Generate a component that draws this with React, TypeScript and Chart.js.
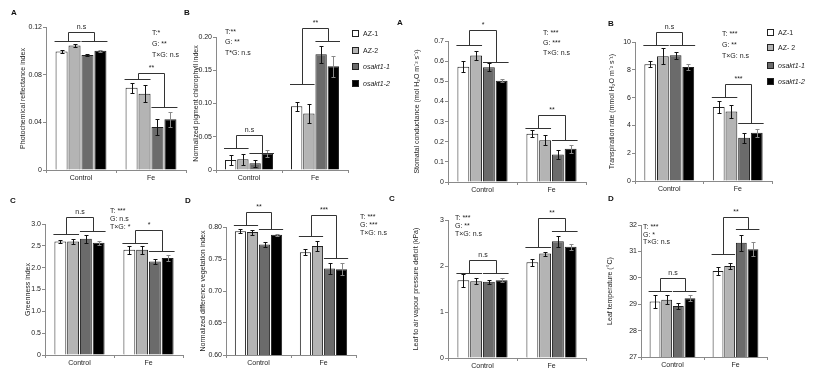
import React, { useEffect, useRef } from "react";
import { Chart, registerables } from "chart.js";
Chart.register(...registerables);

const CATEGORIES = ["Control", "Fe"];
const GENOTYPES = ["AZ-1", "AZ-2", "osakt1-1", "osakt1-2"];
const LEGEND_LEFT = ["AZ-1", "AZ-2", "osakt1-1", "osakt1-2"];
const LEGEND_RIGHT = ["AZ-1", "AZ- 2", "osakt1-1", "osakt1-2"];

// each row: one genotype, [Control, Fe]
const PRI_MEAN = [[0.0995, 0.069], [0.1045, 0.064], [0.0965, 0.036], [0.1, 0.0425]];
const PRI_SE = [[0.0012, 0.004], [0.0012, 0.007], [0.001, 0.007], [0.0006, 0.0065]];
const PRI_TICKS = [0, 0.04, 0.08, 0.12];
const PRI_SIG: any[] = [[0, 0.108, 0.108, 0.1158, "n.s"], [1, 0.0764, 0.053, 0.0814, "**"]];
const PRI_STATS = ["T:*", "G: **", "T×G: n.s"];

const NPCI_MEAN = [[0.015, 0.096], [0.016, 0.085], [0.01, 0.174], [0.025, 0.156]];
const NPCI_SE = [[0.008, 0.007], [0.008, 0.014], [0.005, 0.013], [0.005, 0.016]];
const NPCI_TICKS = [0, 0.05, 0.1, 0.15, 0.2];
const NPCI_SIG: any[] = [[0, 0.033, 0.026, 0.0525, "n.s"], [1, 0.13, 0.194, 0.214, "**"]];
const NPCI_STATS = ["T:**", "G: **", "T*G: n.s"];

const GS_MEAN = [[0.572, 0.24], [0.628, 0.207], [0.57, 0.136], [0.503, 0.165]];
const GS_SE = [[0.027, 0.017], [0.02, 0.025], [0.02, 0.022], [0.008, 0.02]];
const GS_TICKS = [0, 0.1, 0.2, 0.3, 0.4, 0.5, 0.6, 0.7];
const GS_SIG: any[] = [[0, 0.678, 0.596, 0.753, "*"], [1, 0.27, 0.207, 0.331, "**"]];
const GS_STATS = ["T: ***", "G: ***", "T×G: n.s"];

const TR_MEAN = [[8.4, 5.32], [8.98, 5.0], [9.05, 3.12], [8.2, 3.48]];
const TR_SE = [[0.2, 0.42], [0.58, 0.5], [0.24, 0.36], [0.24, 0.28]];
const TR_TICKS = [0, 2, 4, 6, 8, 10];
const TR_SIG: any[] = [[0, 9.8, 9.8, 10.72, "n.s"], [1, 6.04, 4.17, 6.95, "***"]];
const TR_STATS = ["T: ***", "G: **", "T×G: n.s"];

const GI_MEAN = [[2.6, 2.41], [2.6, 2.41], [2.66, 2.14], [2.57, 2.22]];
const GI_SE = [[0.04, 0.09], [0.06, 0.09], [0.09, 0.05], [0.05, 0.06]];
const GI_TICKS = [0, 0.5, 1, 1.5, 2, 2.5, 3];
const GI_SIG: any[] = [[0, 2.76, 2.85, 3.15, "n.s"], [1, 2.57, 2.38, 2.86, "*"]];
const GI_STATS = ["T: ***", "G: n.s", "T×G: *"];

const NDVI_MEAN = [[0.7935, 0.7605], [0.792, 0.7705], [0.7725, 0.735], [0.788, 0.734]];
const NDVI_SE = [[0.003, 0.005], [0.004, 0.0075], [0.0045, 0.009], [0.0013, 0.009]];
const NDVI_TICKS = [0.6, 0.65, 0.7, 0.75, 0.8];
const NDVI_SIG: any[] = [[0, 0.8026, 0.7964, 0.823, "**"], [1, 0.786, 0.751, 0.819, "***"]];
const NDVI_STATS = ["T: ***", "G: ***", "T×G: n.s"];

const VPD_MEAN = [[1.69, 2.08], [1.67, 2.27], [1.66, 2.54], [1.69, 2.42]];
const VPD_SE = [[0.14, 0.07], [0.07, 0.045], [0.045, 0.12], [0.04, 0.065]];
const VPD_TICKS = [0, 1, 2, 3];
const VPD_SIG: any[] = [[0, 1.84, 1.84, 2.13, "n.s"], [1, 2.42, 2.76, 3.05, "**"]];
const VPD_STATS = ["T: ***", "G: **", "T×G: n.s"];

const LT_MEAN = [[29.1, 30.26], [29.17, 30.45], [28.93, 31.33], [29.23, 31.08]];
const LT_SE = [[0.26, 0.16], [0.16, 0.1], [0.1, 0.3], [0.1, 0.26]];
const LT_TICKS = [27, 28, 29, 30, 31, 32];
const LT_SIG: any[] = [[0, 29.5, 29.5, 30.0, "n.s"], [1, 30.89, 31.84, 32.31, "**"]];
const LT_STATS = ["T: ***", "G: *", "T×G: n.s"];

const FONT = "'Liberation Sans', Arial, sans-serif";
const COLORS = ["#ffffff", "#b4b4b4", "#6b6b6b", "#000000"];
const AXIS = "#8a8a8a";
const TEXT = "#222";

const PANELS = [
  { key: "A", label: "A", lx: 11, ly: 8, title: "Photochemical reflectance index", mean: PRI_MEAN, se: PRI_SE, ticks: PRI_TICKS, sig: PRI_SIG, stats: PRI_STATS,
    titleX: 23, axisX: 46, end: 186, top: 27, bottom: 170, sx: 152, sy: 32, sl: 11 },
  { key: "B", label: "B", lx: 184, ly: 8, title: "Normalized pigment chlorophyll index", mean: NPCI_MEAN, se: NPCI_SE, ticks: NPCI_TICKS, sig: NPCI_SIG, stats: NPCI_STATS,
    titleX: 196, axisX: 216, end: 348, top: 37, bottom: 170, sx: 225, sy: 32, sl: 10.5 },
  { key: "A2", label: "A", lx: 397, ly: 18, title: "Stomatal conductance (mol H₂O m⁻² s⁻¹)", mean: GS_MEAN, se: GS_SE, ticks: GS_TICKS, sig: GS_SIG, stats: GS_STATS,
    titleX: 417, axisX: 448, end: 586, top: 41, bottom: 182, sx: 543, sy: 33, sl: 10 },
  { key: "B2", label: "B", lx: 608, ly: 19, title: "Transpiration rate (mmol H₂O m⁻² s⁻¹)", mean: TR_MEAN, se: TR_SE, ticks: TR_TICKS, sig: TR_SIG, stats: TR_STATS,
    titleX: 612, axisX: 635, end: 772, top: 42, bottom: 181, sx: 722, sy: 33, sl: 11 },
  { key: "C", label: "C", lx: 10, ly: 196, title: "Greenness index", mean: GI_MEAN, se: GI_SE, ticks: GI_TICKS, sig: GI_SIG, stats: GI_STATS,
    titleX: 28, axisX: 45, end: 183, top: 224, bottom: 355, sx: 110, sy: 211, sl: 8 },
  { key: "D", label: "D", lx: 185, ly: 196, title: "Normalized difference vegetation index", mean: NDVI_MEAN, se: NDVI_SE, ticks: NDVI_TICKS, sig: NDVI_SIG, stats: NDVI_STATS,
    titleX: 203, axisX: 226, end: 356, top: 227, bottom: 355, sx: 360, sy: 217, sl: 8 },
  { key: "C2", label: "C", lx: 389, ly: 194, title: "Leaf to air vapour pressure deficit (kPa)", mean: VPD_MEAN, se: VPD_SE, ticks: VPD_TICKS, sig: VPD_SIG, stats: VPD_STATS,
    titleX: 416, axisX: 448, end: 586, top: 220, bottom: 358, sx: 455, sy: 218, sl: 7.8 },
  { key: "D2", label: "D", lx: 608, ly: 194, title: "Leaf temperature (°C)", mean: LT_MEAN, se: LT_SE, ticks: LT_TICKS, sig: LT_SIG, stats: LT_STATS,
    titleX: 610, axisX: 641, end: 767, top: 225, bottom: 357, sx: 643, sy: 227, sl: 7.6 },
];

function Panel({ p }: { p: any }) {
  const ref = useRef<HTMLCanvasElement>(null);
  const L = p.titleX - 8;
  const canvasTop = p.top - 30;
  const R = p.end + 4;
  const H = 20;
  const width = R - L;
  const height = p.bottom - canvasTop + H;

  useEffect(() => {
    const overlay = {
      id: "errsig",
      afterDatasetsDraw(chart: any) {
        const ctx = chart.ctx;
        const ys = chart.scales.y;
        ctx.save();
        ctx.strokeStyle = "#111";
        ctx.lineWidth = 1;
        // error bars
        p.se.forEach((errs: number[], i: number) => {
          const meta = chart.getDatasetMeta(i);
          meta.data.forEach((bar: any, j: number) => {
            const v = p.mean[i][j];
            const e = errs[j];
            const x = Math.round(bar.x) + 0.5;
            const yt = Math.round(ys.getPixelForValue(v + e)) + 0.5;
            const yb = Math.round(ys.getPixelForValue(v - e)) + 0.5;
            ctx.strokeStyle = i === 3 ? "#888" : "#111";
            ctx.beginPath();
            ctx.moveTo(x, yt); ctx.lineTo(x, yb);
            ctx.moveTo(x - 2, yt); ctx.lineTo(x + 2, yt);
            ctx.moveTo(x - 2, yb); ctx.lineTo(x + 2, yb);
            ctx.stroke();
          });
        });
        // significance brackets
        ctx.strokeStyle = "#333";
        ctx.fillStyle = TEXT;
        ctx.font = `7px ${FONT}`;
        ctx.textAlign = "center";
        ctx.textBaseline = "bottom";
        p.sig.forEach((s: any[]) => {
          const g = s[0];
          const b = [0, 1, 2, 3].map((i) => chart.getDatasetMeta(i).data[g]);
          const lx1 = b[0].x - b[0].width / 2 - 1, lx2 = b[1].x + b[1].width / 2;
          const rx1 = b[2].x - b[2].width / 2, rx2 = b[3].x + b[3].width / 2 + 1;
          const ly = Math.round(ys.getPixelForValue(s[1])) + 0.5;
          const ry = Math.round(ys.getPixelForValue(s[2])) + 0.5;
          const ty = Math.round(ys.getPixelForValue(s[3])) + 0.5;
          const lm = Math.round((lx1 + lx2) / 2) + 0.5;
          const rm = Math.round((rx1 + rx2) / 2) + 0.5;
          ctx.beginPath();
          ctx.moveTo(lx1, ly); ctx.lineTo(lx2, ly);
          ctx.moveTo(rx1, ry); ctx.lineTo(rx2, ry);
          ctx.moveTo(lm, ly); ctx.lineTo(lm, ty); ctx.lineTo(rm, ty); ctx.lineTo(rm, ry);
          ctx.stroke();
          ctx.fillText(s[4], (lm + rm) / 2, ty - 2);
        });
        ctx.restore();
      },
    };
    const chart = new Chart(ref.current as HTMLCanvasElement, {
      type: "bar",
      data: {
        labels: CATEGORIES,
        datasets: GENOTYPES.map((g, i) => ({
          label: g,
          data: p.mean[i],
          backgroundColor: COLORS[i],
          borderColor: "#222",
          borderWidth: 1,
          categoryPercentage: 0.74,
          barPercentage: 0.93,
        })),
      },
      options: {
        animation: false,
        responsive: false,
        events: [],
        layout: { padding: { top: p.top - canvasTop, right: R - p.end, left: 0, bottom: 0 } },
        plugins: { legend: { display: false }, tooltip: { enabled: false } },
        scales: {
          x: {
            grid: { offset: true, drawOnChartArea: false, tickLength: 3, color: AXIS },
            border: { color: AXIS },
            ticks: { font: { size: 7, family: FONT }, color: TEXT, padding: 1, maxRotation: 0 },
            afterFit: (s: any) => { s.height = H; },
          },
          y: {
            min: p.ticks[0],
            max: p.ticks[p.ticks.length - 1],
            afterBuildTicks: (s: any) => { s.ticks = p.ticks.map((v: number) => ({ value: v })); },
            grid: { drawOnChartArea: false, tickLength: 3, color: AXIS },
            border: { color: AXIS },
            ticks: { font: { size: 7, family: FONT }, color: TEXT, padding: 1, autoSkip: false },
            title: {
              display: true,
              text: p.title,
              color: TEXT,
              font: { size: 7, family: FONT, lineHeight: 1 },
              padding: { top: p.titleX - L - 3.5, bottom: 0 },
            },
            afterFit: (s: any) => { s.width = p.axisX - L; },
          },
        },
      } as any,
      plugins: [overlay],
    });
    return () => chart.destroy();
  }, []);

  return (
    <canvas
      ref={ref}
      width={width}
      height={height}
      style={{ position: "absolute", left: L, top: canvasTop, width, height }}
    />
  );
}

function Stats({ p }: { p: any }) {
  return (
    <div style={{ position: "absolute", left: p.sx, top: p.sy - p.sl / 2, fontSize: 7, lineHeight: `${p.sl}px`, color: TEXT, whiteSpace: "nowrap" }}>
      {p.stats.map((t: string, i: number) => <div key={i}>{t}</div>)}
    </div>
  );
}

function Legend({ x, ys, names }: { x: number; ys: number[]; names: string[] }) {
  return (
    <>
      {names.map((n, i) => (
        <div key={i} style={{ position: "absolute", left: x, top: ys[i] - 4, height: 8, display: "flex", alignItems: "center", whiteSpace: "nowrap" }}>
          <div style={{ width: 5, height: 5, border: "1px solid #222", background: COLORS[i], marginRight: 4 }} />
          <span style={{ fontSize: 7, color: TEXT, fontStyle: i >= 2 ? "italic" : "normal" }}>{n}</span>
        </div>
      ))}
    </>
  );
}

export default function App() {
  return (
    <div style={{ position: "absolute", left: 0, top: 0, width: 821, height: 374, background: "#fff", fontFamily: FONT, overflow: "hidden" }}>
      {PANELS.map((p) => <Panel key={p.key} p={p} />)}
      {PANELS.map((p) => <Stats key={"s" + p.key} p={p} />)}
      {PANELS.map((p) => (
        <div key={"l" + p.key} style={{ position: "absolute", left: p.lx, top: p.ly, fontSize: 8, fontWeight: "bold", color: "#111" }}>{p.label}</div>
      ))}
      <Legend x={352} ys={[33, 50, 66, 83]} names={LEGEND_LEFT} />
      <Legend x={767} ys={[32, 47, 65, 81]} names={LEGEND_RIGHT} />
    </div>
  );
}
